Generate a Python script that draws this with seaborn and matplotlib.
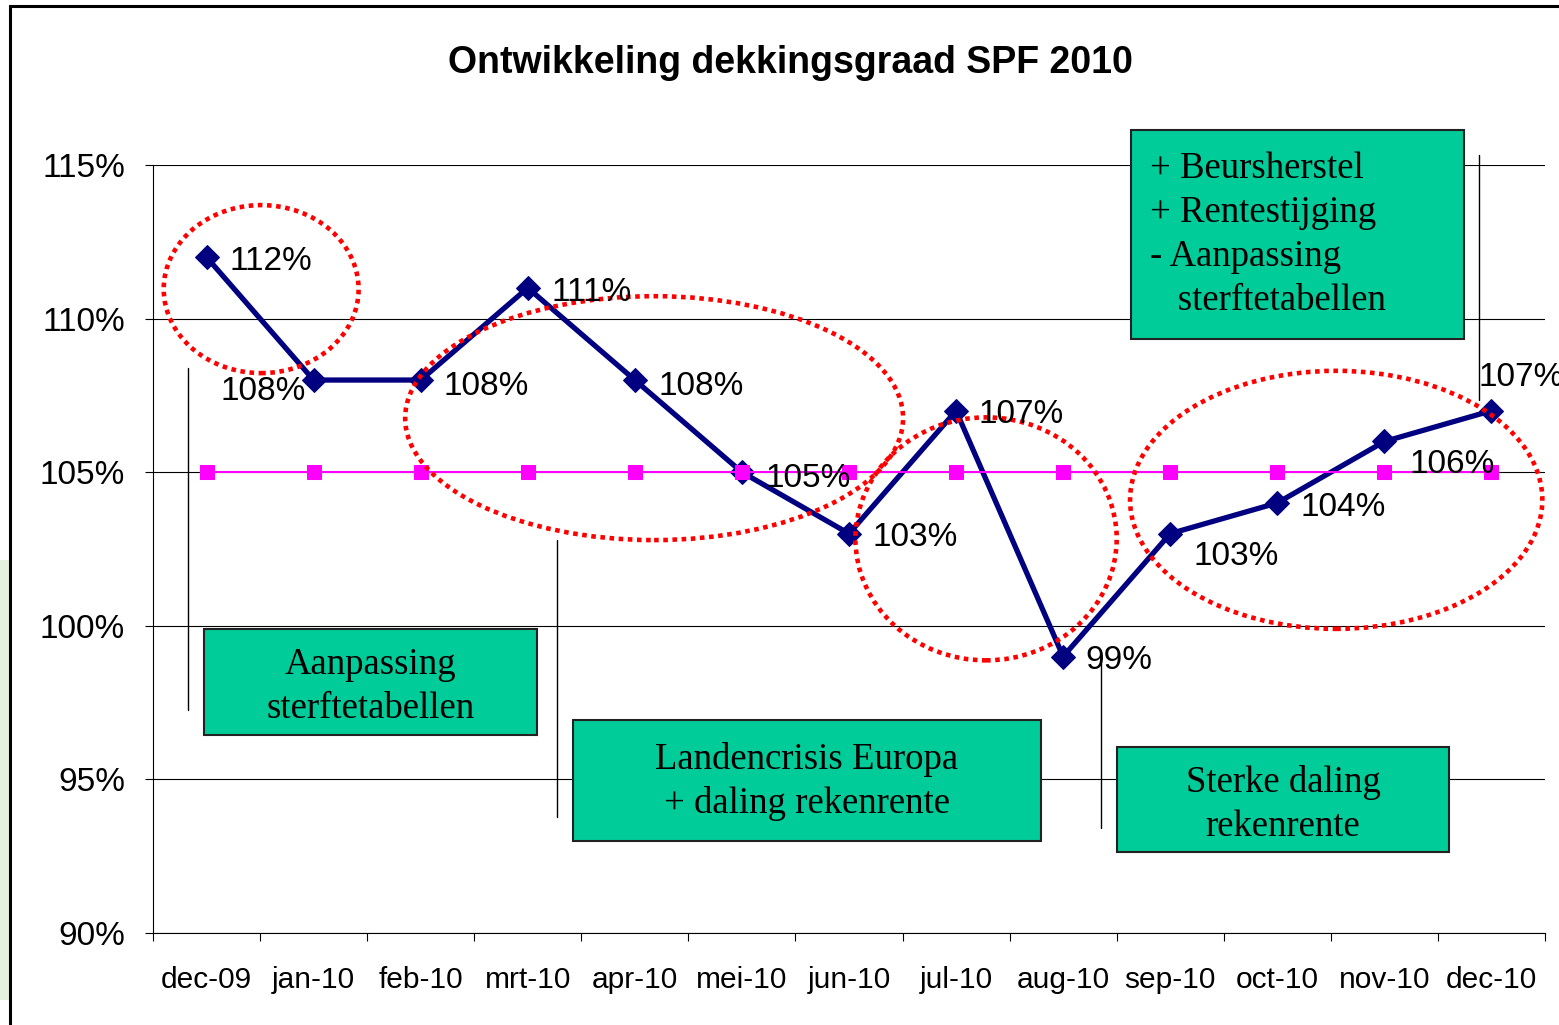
#Ontwikkeling dekkingsgraad SPF 2010 - line chart with annotations

#Importing the libraries
import numpy as np
import pandas as pd
import matplotlib
matplotlib.use('Agg')
import matplotlib.pyplot as plt
from matplotlib.patches import Ellipse, Rectangle
from matplotlib.lines import Line2D
import seaborn as sns

#chart data
months = ['dec-09', 'jan-10', 'feb-10', 'mrt-10', 'apr-10', 'mei-10', 'jun-10',
          'jul-10', 'aug-10', 'sep-10', 'oct-10', 'nov-10', 'dec-10']
dekkingsgraad = [112, 108, 108, 111, 108, 105, 103, 107, 99, 103, 104, 106, 107]
minimum = [105] * 13
y_ticks = [90, 95, 100, 105, 110, 115]

df = pd.DataFrame({'pos': np.arange(len(months)), 'month': months,
                   'dekkingsgraad': dekkingsgraad, 'minimum': minimum})

sns.set_style('white')
plt.rcParams['font.family'] = ['Liberation Sans', 'DejaVu Sans']
plt.rcParams['text.color'] = 'black'
plt.rcParams['xtick.color'] = 'black'
plt.rcParams['ytick.color'] = 'black'

W, H = 1559, 1025
fig = plt.figure(figsize=(W / 100, H / 100), dpi=100)
fig.patch.set_facecolor('white')

def fx(px):
    return px / W

def fy(py):
    return 1 - py / H

ax = fig.add_axes([fx(153), fy(933), (1545 - 153) / W, (933 - 165) / H])

#main series + minimum line
sns.lineplot(data=df, x='pos', y='dekkingsgraad', ax=ax, color='#000080', lw=3.8,
             marker='D', markersize=12.5, markeredgecolor='#000080', zorder=3)
sns.lineplot(data=df, x='pos', y='minimum', ax=ax, color='#FF00FF', lw=1.5,
             marker='s', markersize=9.5, markeredgecolor='#FF00FF', zorder=4)

ax.set_xlim(-0.5, len(months) - 0.5)
ax.set_ylim(y_ticks[0], y_ticks[-1])
ax.set_yticks(y_ticks)
ax.set_yticklabels(['%d%%' % v for v in y_ticks], fontsize=24)
ax.set_xticks(df['pos'])
ax.set_xticklabels(months, fontsize=21.5)
ax.set_xticks(np.arange(-0.5, len(months)), minor=True)
ax.tick_params(axis='x', which='major', bottom=True, length=0, pad=24)
ax.tick_params(axis='x', which='minor', bottom=True, length=6, width=0.8,
               direction='out', color='black')
ax.tick_params(axis='y', left=True, length=6, width=0.8, direction='out',
               color='black', pad=14)
ax.set_xlabel('')
ax.set_ylabel('')
ax.yaxis.grid(True, color='black', lw=0.8)
ax.set_axisbelow(True)
for s in ['top', 'right']:
    ax.spines[s].set_visible(False)
for s in ['left', 'bottom']:
    ax.spines[s].set_color('black')
    ax.spines[s].set_linewidth(0.8)
ax.set_facecolor('white')

#data labels (offsets in points)
offsets = [(16.5, -3, 'left'), (-5.8, -8, 'right'), (16.5, -5, 'left'), (17, -3, 'left'),
           (17, -5, 'left'), (17, -4.5, 'left'), (17, -3, 'left'), (16.5, -3, 'left'),
           (16, -3, 'left'), (16.5, -16.5, 'left'), (17, -3, 'left'), (18, -16.5, 'left'),
           (-9.5, 24, 'left')]
for i, v in enumerate(dekkingsgraad):
    dx, dy, ha = offsets[i]
    ax.annotate('%d%%' % v, (i, v), xytext=(dx, dy), textcoords='offset points',
                ha=ha, va='center', fontsize=24, zorder=8, annotation_clip=False)

#red dotted ellipses
for (cx, cy, w, h) in [(0.51, 110.96, 1.82, 5.47), (4.18, 106.76, 4.65, 7.94),
                       (7.28, 102.83, 2.44, 7.91), (10.55, 104.1, 3.85, 8.4)]:
    ax.add_patch(Ellipse((cx, cy), w, h, fill=False, edgecolor='#FF0000', lw=3.3,
                         ls=(0, (1, 1)), zorder=6, clip_on=False))

#green text boxes
serif = ['Liberation Serif', 'DejaVu Serif']
boxes = [((204, 629, 537, 735), 'Aanpassing\nsterftetabellen', 'center', 5),
         ((573, 720, 1041, 841), 'Landencrisis Europa\n+ daling rekenrente', 'center', 1),
         ((1117, 747, 1449, 852), 'Sterke daling\nrekenrente', 'center', 5),
         ((1131, 130, 1464, 339), '+ Beursherstel\n+ Rentestijging\n- Aanpassing\n   sterftetabellen', 'left', 0)]
for (x0, y0, x1, y1), txt, ha, dy in boxes:
    fig.add_artist(Rectangle((fx(x0), fy(y1)), fx(x1) - fx(x0), fy(y0) - fy(y1),
                             transform=fig.transFigure, facecolor='#00CC99',
                             edgecolor='#222222', lw=1.5, zorder=10))
    tx = (x0 + x1) / 2 if ha == 'center' else x0 + 19
    fig.text(fx(tx), fy((y0 + y1) / 2 + dy), txt, ha=ha, va='center', ma=ha,
             family=serif, fontsize=26.5, linespacing=1.36, zorder=11)

#thin pointer lines
for (px, py0, py1) in [(188, 368, 710), (557, 540, 817), (1101, 658, 828), (1479, 155, 400)]:
    fig.add_artist(Line2D([fx(px), fx(px)], [fy(py0), fy(py1)], transform=fig.transFigure,
                          color='black', lw=1, zorder=9))

#title
fig.text(fx(790), fy(63), 'Ontwikkeling dekkingsgraad SPF 2010', ha='center', va='center',
         fontsize=27, fontweight='bold')

#slide frame
fig.add_artist(Rectangle((0, fy(1000)), fx(9), fy(560) - fy(1000), transform=fig.transFigure,
                         facecolor='#e6f0de', edgecolor='none', zorder=0))
fig.add_artist(Rectangle((fx(10), fy(1100)), fx(1700), fy(6) - fy(1100),
                         transform=fig.transFigure, fill=False, edgecolor='black',
                         lw=2.2, zorder=12, clip_on=False))

fig.savefig('out.png', dpi=100)
